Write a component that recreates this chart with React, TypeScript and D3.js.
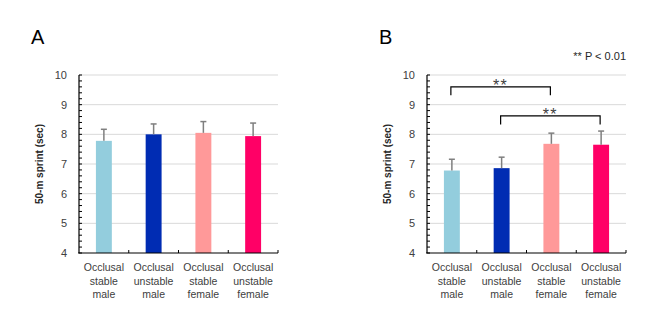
import React from "react";
import * as d3 from "d3";

const categories = [
  ["Occlusal", "stable", "male"],
  ["Occlusal", "unstable", "male"],
  ["Occlusal", "stable", "female"],
  ["Occlusal", "unstable", "female"],
];
const colors = ["#93CDDD", "#002CB3", "#FF9999", "#FF0066"];
const meansA = [7.78, 8.0, 8.05, 7.94];
const errA = [0.39, 0.35, 0.38, 0.44];
const meansB = [6.78, 6.86, 7.68, 7.65];
const errB = [0.38, 0.37, 0.36, 0.46];
const yTicks = [4, 5, 6, 7, 8, 9, 10];
const bracketsB = [
  { from: 0, to: 2, level: 9.6, label: "**" },
  { from: 1, to: 3, level: 8.62, label: "**" },
];

const W = 652;
const H = 322;
const FONT = "'Liberation Sans', Arial, sans-serif";
const TXT = "#404040";

function Panel({ x0, title, means, errs, brackets }: any) {
  const plotW = 199;
  const top = 75;
  const bottom = 253;
  const x = d3.scaleBand<number>().domain([0, 1, 2, 3]).range([x0, x0 + plotW]).paddingInner(0.68).paddingOuter(0.34);
  const band = d3.scaleBand<number>().domain([0, 1, 2, 3]).range([x0, x0 + plotW]);
  const y = d3.scaleLinear().domain([4, 10]).range([bottom, top]);
  const minor = d3.range(4, 10.001, 0.2);
  return (
    <g>
      <text x={x0 - 48} y={44} fontFamily={FONT} fontSize={20} fill="#000">{title}</text>
      {yTicks.filter((t) => t > 4).map((t) => (
        <line key={"g" + t} x1={x0} x2={x0 + plotW} y1={y(t)} y2={y(t)} stroke="#d9d9d9" strokeWidth={1} />
      ))}
      {means.map((m: number, i: number) => (
        <g key={"b" + i}>
          <rect x={x(i)} y={y(m)} width={x.bandwidth()} height={y(4) - y(m)} fill={colors[i]} />
          <line x1={x(i)! + x.bandwidth() / 2} x2={x(i)! + x.bandwidth() / 2} y1={y(m)} y2={y(m + errs[i])} stroke="#7f7f7f" strokeWidth={1.5} />
          <line x1={x(i)! + x.bandwidth() / 2 - 3} x2={x(i)! + x.bandwidth() / 2 + 3} y1={y(m + errs[i])} y2={y(m + errs[i])} stroke="#7f7f7f" strokeWidth={1.5} />
        </g>
      ))}
      <line x1={x0} x2={x0} y1={top} y2={bottom} stroke="#000" strokeWidth={1.2} />
      <line x1={x0 - 1} x2={x0 + plotW} y1={bottom} y2={bottom} stroke="#000" strokeWidth={1.2} />
      {minor.map((t, i) => (
        <line key={"m" + i} x1={x0} x2={x0 + 3} y1={y(t)} y2={y(t)} stroke="#000" strokeWidth={1} />
      ))}
      {[1, 2, 3, 4].map((i) => (
        <line key={"xt" + i} x1={band(0)! + band.bandwidth() * i} x2={band(0)! + band.bandwidth() * i} y1={bottom} y2={bottom - 3} stroke="#000" strokeWidth={1} />
      ))}
      {yTicks.map((t) => (
        <text key={"yl" + t} x={x0 - 12} y={y(t)} dy="0.35em" textAnchor="end" fontFamily={FONT} fontSize={11} fill={TXT}>{t}</text>
      ))}
      {categories.map((c, i) => (
        <text key={"c" + i} x={band(i)! + band.bandwidth() / 2} y={271} textAnchor="middle" fontFamily={FONT} fontSize={10.5} fill={TXT}>
          {c.map((s, j) => (
            <tspan key={j} x={band(i)! + band.bandwidth() / 2} dy={j === 0 ? 0 : 13.7}>{s}</tspan>
          ))}
        </text>
      ))}
      <text transform={`translate(${x0 - 40},${y(7)}) rotate(-90)`} textAnchor="middle" dy="0.35em" fontFamily={FONT} fontSize={10} fontWeight="bold" fill="#262626">50-m sprint (sec)</text>
      {brackets && brackets.map((b: any, k: number) => {
        const xa = band(b.from)! + band.bandwidth() / 2 - 1;
        const xb = band(b.to)! + band.bandwidth() / 2 - 1;
        const yy = y(b.level);
        return (
          <g key={"br" + k}>
            <path d={`M${xa},${yy + 8.5}V${yy}H${xb}V${yy + 8.5}`} fill="none" stroke="#000" strokeWidth={1.2} />
            <text x={(xa + xb) / 2} y={yy + 4} textAnchor="middle" fontFamily={FONT} fontSize={16} letterSpacing={1.5} fill={TXT}>{b.label}</text>
          </g>
        );
      })}
    </g>
  );
}

export default function App() {
  return (
    <svg width={W} height={H} style={{ position: "absolute", left: 0, top: 0, background: "#fff" }}>
      <rect width={W} height={H} fill="#fff" />
      <Panel x0={79} title="A" means={meansA} errs={errA} />
      <Panel x0={427} title="B" means={meansB} errs={errB} brackets={bracketsB} />
      <text x={626} y={60} textAnchor="end" fontFamily={FONT} fontSize={11} fill="#262626">** P &lt; 0.01</text>
    </svg>
  );
}
